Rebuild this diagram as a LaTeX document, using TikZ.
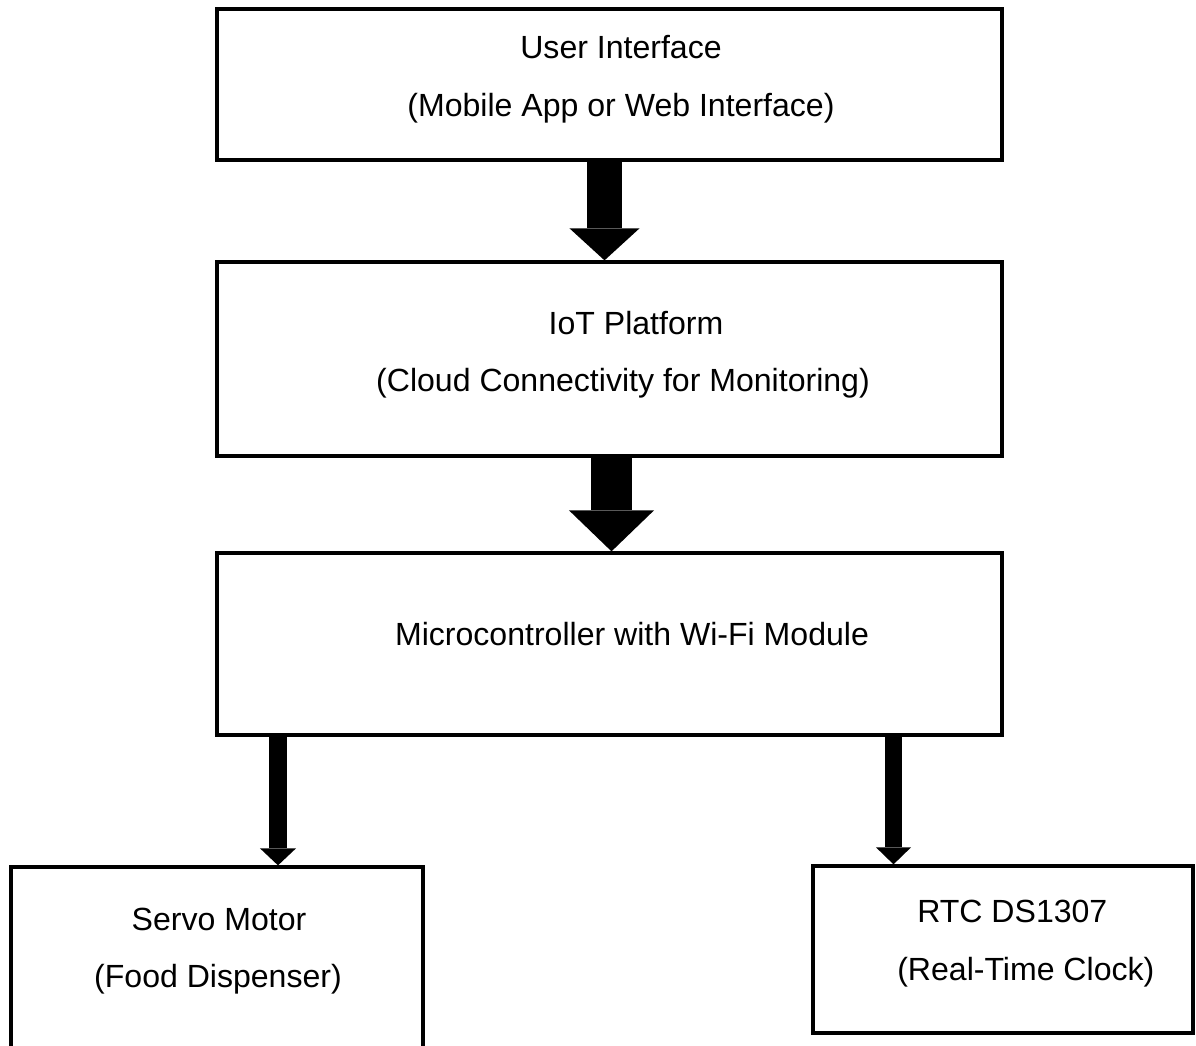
\documentclass[tikz,border=0pt]{standalone}
\usepackage{fontspec}
\setmainfont{Liberation Sans}
\usetikzlibrary{arrows.meta, positioning}
\tikzset{
  block/.style   = {draw=black, line width=2.3pt, inner sep=0pt, fill=white},
  label/.style   = {font=\fontsize{22.8}{27}\selectfont, inner sep=0pt, anchor=base},
  fatarr/.style n args = {3}{line width=#1, line cap=butt,
                   -{Triangle[width=#2, length=#3, line width=0pt]}},
}
\begin{document}
\begin{tikzpicture}[x=0.025cm, y=-0.025cm]
  \useasboundingbox (0,0) rectangle (1196,1045);

  % blocks
  \node[block, minimum width=19.625cm, minimum height=3.775cm] (ui)    at (609.5,84.5) {};
  \node[block, minimum width=19.625cm, minimum height=4.85cm]  (iot)   at (609.5,359)  {};
  \node[block, minimum width=19.625cm, minimum height=4.55cm]  (mcu)   at (609.5,644)  {};
  \node[block, minimum width=10.3cm,   minimum height=4.825cm] (servo) at (217,963.5)  {};
  \node[block, minimum width=9.5cm,    minimum height=4.175cm] (rtc)   at (1003,949.5) {};

  % texts
  \node[label] (uiA)    at (621,59)  {User Interface};
  \node[label] (uiB)    at (621,116) {(Mobile App or Web Interface)};
  \node[label] (iotA)   at (636,334) {IoT Platform};
  \node[label] (iotB)   at (623,391) {(Cloud Connectivity for Monitoring)};
  \node[label] (mcuA)   at (632,645) {Microcontroller with Wi-Fi Module};
  \node[label] (servoA) at (219,930) {Servo Motor};
  \node[label] (servoB) at (218,987) {(Food Dispenser)};
  \node[label, anchor=base west] (rtcA) at (917,922) {RTC DS1307};
  \node[label, anchor=base west] (rtcB) at (897,980) {(Real-Time Clock)};

  % arrow columns
  \coordinate (c1) at (604.5,0);
  \coordinate (c2) at (611.5,0);
  \coordinate (c3) at (278,0);
  \coordinate (c4) at (893.5,0);

  \draw[fatarr={0.875cm}{1.75cm}{0.8cm}]     (ui.south -| c1)  -- (iot.north -| c1);
  \draw[fatarr={1.025cm}{2.125cm}{1.025cm}]  (iot.south -| c2) -- (mcu.north -| c2);
  \draw[fatarr={0.45cm}{0.9cm}{0.425cm}]     (mcu.south -| c3) -- (servo.north -| c3);
  \draw[fatarr={0.425cm}{0.875cm}{0.425cm}]  (mcu.south -| c4) -- (rtc.north -| c4);
\end{tikzpicture}
\end{document}
